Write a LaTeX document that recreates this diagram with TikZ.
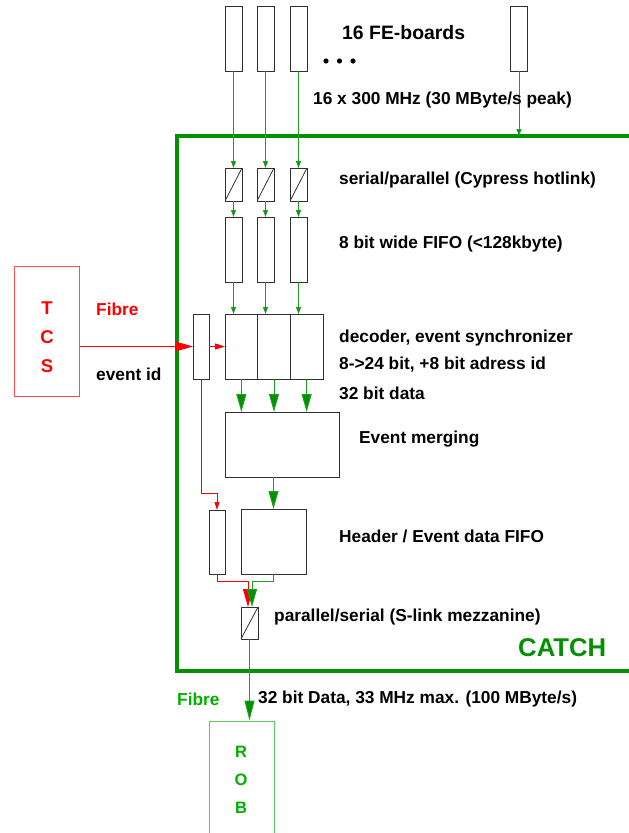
\documentclass[tikz,border=0pt]{standalone}
\usepackage{fontspec}
\setmainfont{Liberation Sans}
\usepackage{xcolor}
\usetikzlibrary{arrows.meta,positioning}
\definecolor{catchgreen}{HTML}{009000}
\definecolor{linkgreen}{HTML}{1EA01E}
\definecolor{robgreen}{HTML}{00B000}
\definecolor{tcsred}{HTML}{FF0000}
\definecolor{boxgray}{HTML}{303030}
\tikzset{
  unit/.style={draw=boxgray, line width=0.9pt, inner sep=0pt, outer sep=0pt, fill=white},
  board/.style={unit, minimum width=17pt, minimum height=65pt},
  spbox/.style={unit, minimum width=17pt, minimum height=33pt, path picture={\draw[line width=0.8pt] (path picture bounding box.south west) -- (path picture bounding box.north east);}},
  fifocol/.style={unit, minimum width=17pt, minimum height=65pt},
  decblock/.style={unit, minimum width=32.7pt, minimum height=65pt},
  catchframe/.style={draw=catchgreen, line width=3.4pt, inner sep=0pt, minimum width=463pt, minimum height=535pt},
  tcsbox/.style={draw=tcsred!70, line width=1pt, inner sep=0pt, minimum width=65pt, minimum height=130pt},
  robbox/.style={draw=robgreen!65, line width=1pt, inner sep=0pt, minimum width=65pt, minimum height=130pt},
  greenlink/.style={linkgreen, line width=1pt, -{Triangle[length=7pt,width=5pt,fill=catchgreen]}},
  greenbus/.style={linkgreen, line width=1pt, -{Triangle[length=18pt,width=10pt,fill=catchgreen]}},
  redlink/.style={tcsred, line width=1pt, -{Triangle[length=8pt,width=5pt]}},
  redbus/.style={tcsred, line width=1pt, -{Triangle[length=18pt,width=10pt]}},
  lbl/.style={anchor=west, inner sep=0pt, font=\bfseries\fontsize{17.3}{20}\selectfont},
  bigletters/.style={align=center, inner sep=0pt, font=\bfseries}
}

\begin{document}
\begin{tikzpicture}[x=1pt, y=-1pt]
  \useasboundingbox (0,0) rectangle (629,833);
  \clip (0,0) rectangle (629,833);
  \node[catchframe] (catch) at (408.5,403.5) {};
  \node[lbl, text=catchgreen, font=\bfseries\fontsize{25.7}{28}\selectfont] (catchname) at (518,648) {CATCH};
  % front-end columns
  \foreach \i/\x in {1/233.5,2/265.5,3/298.5} {
    \node[board] (board\i) at (\x,38.5) {};
    \node[spbox] (sp\i) at (\x,184.5) {};
    \node[fifocol] (fifo\i) at (\x,249.5) {};
  }
  \node[board] (board4) at (519,38.5) {};
  \foreach \x in {326,339.5,353} \fill (\x,61) circle (2.6pt);
  \node[decblock] (dec1) at (241.35,346.5) {};
  \node[decblock] (dec2) at (274,346.5) {};
  \node[decblock] (dec3) at (306.65,346.5) {};
  \node[unit, minimum width=16pt, minimum height=65pt] (evid) at (201,346.5) {};
  \node[unit, minimum width=114pt, minimum height=65pt] (merge) at (282,444.5) {};
  \node[unit, minimum width=16pt, minimum height=64pt] (hdr) at (217,542) {};
  \node[unit, minimum width=65pt, minimum height=65pt] (evfifo) at (273.5,541.5) {};
  \node[spbox, minimum height=32pt] (ps) at (249.5,623) {};
  \node[tcsbox] (tcs) at (46.5,331) {};
  \node[bigletters, text=tcsred, font=\bfseries\fontsize{18.5}{29}\selectfont] (tcsname) at (47,337) {T\\C\\S};
  \node[robbox] (rob) at (241.5,786) {};
  \node[bigletters, text=robgreen, font=\bfseries\fontsize{16.5}{28}\selectfont] (robname) at (241,779.5) {R\\O\\B};
  % links
  \foreach \i in {1,2,3} {
    \draw[greenlink] (board\i.south) -- (sp\i.north);
    \draw[greenlink] (sp\i.south) -- (fifo\i.north);
    \draw[greenlink] (fifo\i.south) -- (fifo\i.south |- dec1.north);
    \draw[greenbus] (dec\i.south) -- (dec\i.south |- merge.north);
  }
  \draw[greenlink] (board4.south) -- ([yshift=-1.7pt]board4.south |- catch.north);
  \draw[redbus] (tcs.east |- evid.west) -- (evid.west);
  \draw[redlink, -{Triangle[length=10pt,width=6pt]}] (evid.east) -- (dec1.west);
  \draw[redlink] (evid.south) -- ++(0,114) -| (hdr.north);
  \draw[greenbus] (evfifo.north |- merge.south) -- (evfifo.north);
  \draw[redbus] (hdr.south) -- ++(0,7) -| ([xshift=-1.5pt]ps.north);
  \draw[greenbus] (evfifo.south) -- ++(0,7) -| ([xshift=2.5pt]ps.north);
  \draw[greenbus, -{Triangle[length=20pt,width=10pt,fill=catchgreen]}] (ps.south) -- (ps.south |- rob.north);
  % labels
  \node[lbl, font=\bfseries\fontsize{19.4}{22}\selectfont] (boardslbl) at (342,33) {16 FE-boards};
  \node[lbl] (ratelbl) at (313,100) {16 x 300 MHz (30 MByte/s peak)};
  \node[lbl] (splbl) at (339,180) {serial/parallel (Cypress hotlink)};
  \node[lbl] (fifolbl) at (339,244) {8 bit wide FIFO (<128kbyte)};
  \node[lbl] (declbl) at (339,338) {decoder, event synchronizer};
  \node[lbl] (bitlbl) at (339,365) {8->24 bit, +8 bit adress id};
  \node[lbl] (datalbl) at (339,393) {32 bit data};
  \node[lbl] (mergelbl) at (359,439) {Event merging};
  \node[lbl] (hdrlbl) at (339,536) {Header / Event data FIFO};
  \node[lbl] (pslbl) at (274,617) {parallel/serial (S-link mezzanine)};
  \node[lbl, text=tcsred] (fibrein) at (96,309) {Fibre};
  \node[lbl] (evidlbl) at (96,374) {event id};
  \node[lbl, text=robgreen] (fibreout) at (177,699) {Fibre};
  \node[lbl] (outlbl) at (258,699) {32 bit Data, 33 MHz max. (100 MByte/s)};
\end{tikzpicture}
\end{document}
